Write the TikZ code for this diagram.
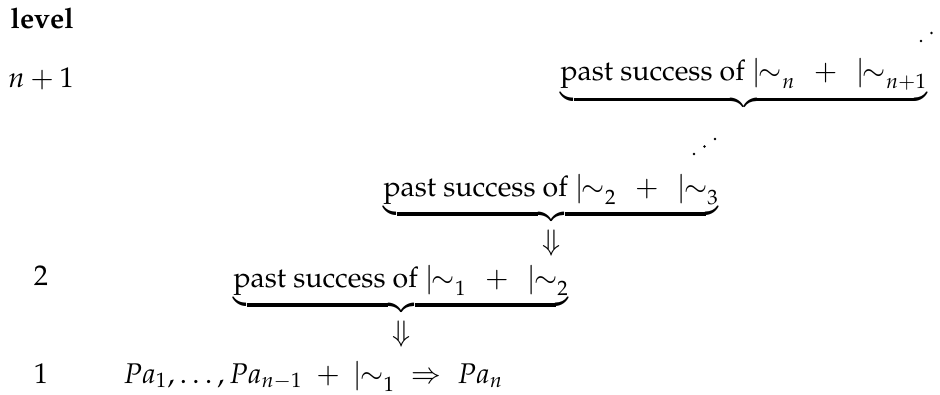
\documentclass[tikz,border=0pt]{standalone}
\usepackage[T1]{fontenc}
\usepackage{mathpazo}
\usepackage{amsmath}
\usepackage{tikz}
\usetikzlibrary{positioning}

\newcommand{\snake}{{|\mkern-6.5mu\sim}}

\begin{document}
\begin{tikzpicture}[
    x=0.3846pt, y=-0.3846pt,
    font=\fontsize{10.95}{13}\selectfont,
    node distance=2pt,
    lvl/.style={anchor=base, inner sep=0pt},
    stage/.style={anchor=base west, inner sep=0pt},
    down/.style={inner sep=0pt}
]
\useasboundingbox (0,0) rectangle (940,394);

% Level column
\node (head) [anchor=base west, inner sep=0pt] at (10,28) {\textbf{level}};
\node (lvlN) [lvl] at (41,87) {$n+1$};
\node (lvl2) [lvl] at (41,285) {$2$};
\node (lvl1) [lvl] at (41,383) {$1$};

% Stages
\node (stageN) [stage] at (560,80) {$\underbrace{\text{past success of }\snake_n\;\,+\;\,\snake_{n+1}}$};
\node (stage3) [stage] at (383,196) {$\underbrace{\text{past success of }\snake_2\;\,+\;\,\snake_3}$};
\node (stage2) [stage] at (233,287) {$\underbrace{\text{past success of }\snake_1\;\,+\;\,\snake_2}$};
\node (base) [stage] at (123,383) {$Pa_1,\ldots,Pa_{n-1}\;+\;\snake_1\mathrel{\;\Rightarrow\;}Pa_n$};

% Arrows between stages
\node (arr3) [down, below=of stage3] {$\Downarrow$};
\node (arr2) [down, below=of stage2] {$\Downarrow$};

% Dots
\foreach \x/\y in {694/154, 704.5/146.5, 715/139, 921/41, 931.5/33, 942/25}
  \fill (\x,\y) circle (0.55pt);

\end{tikzpicture}
\end{document}
